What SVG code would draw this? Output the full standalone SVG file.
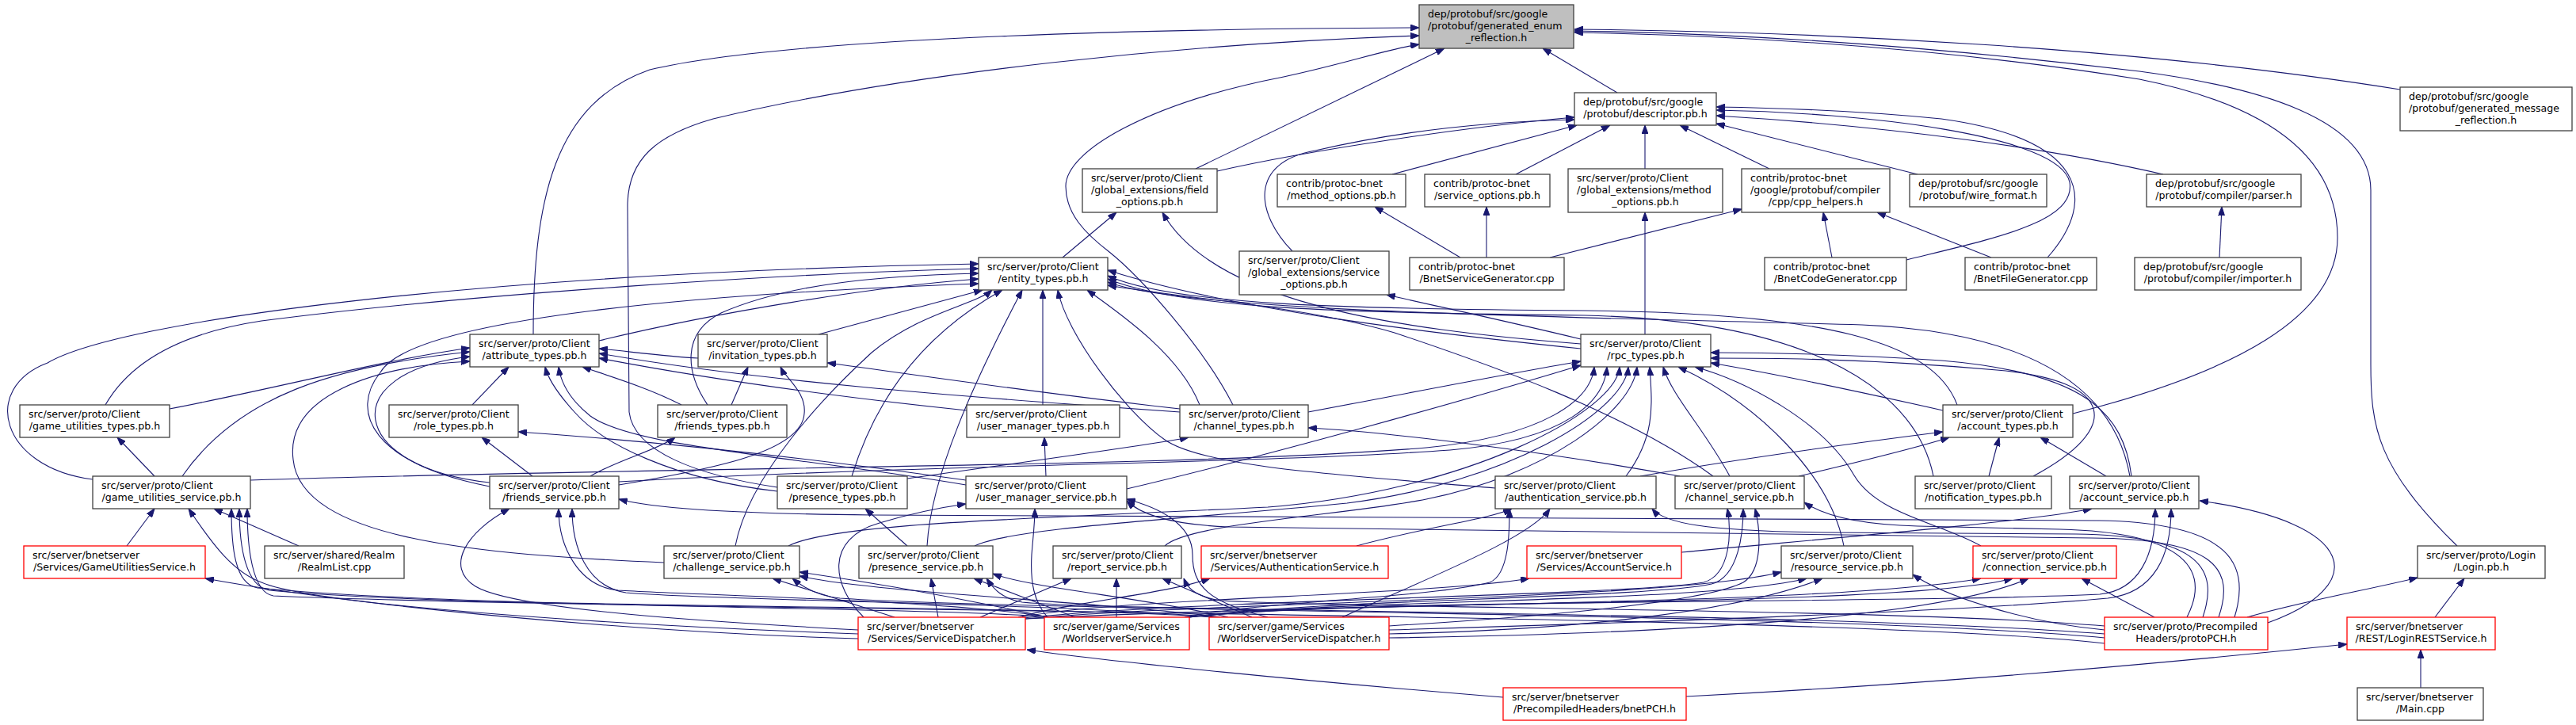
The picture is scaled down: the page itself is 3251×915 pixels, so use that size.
<svg xmlns="http://www.w3.org/2000/svg" width="3251" height="915" viewBox="0 0 3251 915">
<defs>
<marker id="a" markerWidth="11" markerHeight="8" refX="11" refY="4" orient="auto" markerUnits="userSpaceOnUse"><path d="M0,0 L11,4 L0,8 z" fill="#191970" stroke="#191970" stroke-width="1"/></marker>
<style>
.n rect{fill:#fff;stroke:#404040;stroke-width:1.3}
.r rect{stroke:#ff0000}
.g rect{fill:#bfbfbf}
text{font-family:"DejaVu Sans",sans-serif;font-size:12.6px;fill:#000}
.m{text-anchor:middle}
#edges path{fill:none;stroke:#191970;stroke-width:1.1;marker-end:url(#a)}
</style>
</defs>
<rect x="0" y="0" width="3251" height="915" fill="#fff"/>
<g id="edges">
<path d="M2041,117 L1947,61"/>
<path d="M1509,213 L1823,61"/>
<path d="M673,422 C673,250 700,130 820,88 C1000,45 1500,36 1791,35"/>
<path d="M1556,511 C1520,440 1440,350 1400,318 C1370,295 1345,270 1345,235 C1345,190 1450,130 1620,97 C1700,80 1750,62 1791,56"/>
<path d="M981,615 C880,600 800,570 794,520 L792,260 C792,200 830,170 900,150 C1150,90 1500,55 1791,45"/>
<path d="M3029,113 C2700,60 2300,40 1987,37"/>
<path d="M3101,689 C3000,590 2992,540 2992,460 L2992,240 C2992,150 2850,110 2700,90 C2450,60 2200,42 1987,39"/>
<path d="M2616,522 C2820,470 2950,400 2950,300 C2950,190 2850,130 2700,100 C2450,60 2200,45 1987,41"/>
<path d="M1536,216 C1650,190 1850,160 1987,148"/>
<path d="M1631,317 C1585,270 1575,205 1660,190 C1780,162 1900,153 1987,151"/>
<path d="M1757,220 L1990,158"/>
<path d="M1913,220 L2032,158"/>
<path d="M2076,213 L2076,158"/>
<path d="M2233,213 L2120,158"/>
<path d="M2420,220 L2166,156"/>
<path d="M2730,220 C2600,190 2400,160 2166,146"/>
<path d="M2406,328 C2520,300 2620,280 2612,230 C2600,170 2350,142 2166,139"/>
<path d="M2584,325 C2650,250 2630,175 2450,150 C2330,138 2230,136 2166,135"/>
<path d="M1843,325 L1735,261"/>
<path d="M1876,325 L1876,261"/>
<path d="M1956,325 L2198,264"/>
<path d="M2312,325 L2301,268"/>
<path d="M2513,325 L2369,268"/>
<path d="M2801,325 L2804,261"/>
<path d="M2076,422 L2076,268"/>
<path d="M1995,428 C1900,405 1820,388 1750,372"/>
<path d="M1995,434 C1750,415 1530,380 1467,268"/>
<path d="M1341,325 L1409,268"/>
<path d="M117,605 C0,590 -25,490 60,458 C150,405 600,345 1235,333"/>
<path d="M133,511 C165,455 230,420 330,405 C600,370 1000,345 1235,339"/>
<path d="M893,511 C865,470 860,420 910,395 C990,360 1100,348 1235,345"/>
<path d="M756,430 C900,395 1100,362 1235,352"/>
<path d="M618,614 C470,585 440,520 480,470 C520,400 900,370 1235,358"/>
<path d="M1033,422 L1240,366"/>
<path d="M928,689 C945,600 1040,500 1100,445 C1160,395 1230,385 1252,366"/>
<path d="M1075,601 C1100,520 1150,430 1265,366"/>
<path d="M1170,689 C1175,600 1230,480 1290,366"/>
<path d="M1316,511 L1316,366"/>
<path d="M1887,616 C1700,600 1520,590 1470,555 C1420,520 1345,420 1335,366"/>
<path d="M1514,511 C1490,450 1420,400 1372,366"/>
<path d="M1995,440 C1800,420 1550,390 1398,341"/>
<path d="M2470,511 C2440,430 2300,395 2000,392 C1700,390 1480,385 1398,348"/>
<path d="M2440,601 C2420,500 2300,405 2000,398 C1700,395 1490,390 1398,352"/>
<path d="M2688,601 C2670,500 2580,420 2350,410 C2000,400 1500,395 1398,356"/>
<path d="M2162,601 C2050,520 1880,460 1760,420 C1640,385 1480,375 1398,360"/>
<path d="M214,516 C350,490 480,455 593,439"/>
<path d="M230,601 C300,500 420,462 593,444"/>
<path d="M618,609 C440,590 420,470 593,450"/>
<path d="M838,710 C600,700 380,680 370,580 C360,500 470,462 593,456"/>
<path d="M596,511 L642,463"/>
<path d="M860,511 C820,490 770,475 735,463"/>
<path d="M881,452 C840,450 790,443 756,440"/>
<path d="M1489,520 C1200,500 950,480 756,446"/>
<path d="M1220,518 C1000,495 850,470 756,452"/>
<path d="M981,620 C850,605 760,560 725,520 C705,498 692,480 688,463"/>
<path d="M1219,612 C1000,575 800,565 745,525 C720,505 708,485 705,463"/>
<path d="M923,511 L944,463"/>
<path d="M781,612 C900,592 1012,570 1015,522 C1018,495 992,478 985,463"/>
<path d="M1489,516 C1300,495 1150,472 1044,458"/>
<path d="M1651,520 C1800,492 1900,472 1995,456"/>
<path d="M2452,518 C2350,495 2230,470 2159,458"/>
<path d="M1422,617 C1600,575 1850,505 1995,461"/>
<path d="M316,606 C900,588 1500,590 1800,565 C1950,550 2008,505 2012,463"/>
<path d="M781,608 C1200,585 1600,585 1830,568 C1980,555 2025,505 2028,463"/>
<path d="M995,689 C1050,660 1300,655 1600,640 C1850,620 2040,520 2044,463"/>
<path d="M1230,689 C1280,665 1500,655 1700,635 C1900,610 2050,520 2055,463"/>
<path d="M1470,689 C1500,660 1700,650 1800,630 C1950,600 2060,520 2066,463"/>
<path d="M2052,601 C2090,550 2085,510 2082,463"/>
<path d="M2183,601 C2150,540 2110,500 2099,463"/>
<path d="M2327,689 C2310,600 2220,510 2118,463"/>
<path d="M2500,689 C2450,660 2370,650 2340,600 C2300,530 2200,480 2139,463"/>
<path d="M2566,601 C2680,540 2670,480 2520,467 C2350,452 2230,452 2159,452"/>
<path d="M2690,601 C2680,520 2630,470 2450,455 C2300,445 2200,445 2159,445"/>
<path d="M672,601 L608,552"/>
<path d="M1219,606 C1000,575 800,555 654,545"/>
<path d="M195,601 L148,552"/>
<path d="M745,601 C780,580 830,568 852,552"/>
<path d="M1320,601 L1318,552"/>
<path d="M1145,604 C1300,582 1450,562 1500,552"/>
<path d="M2120,601 C1950,570 1750,545 1651,540"/>
<path d="M2510,601 L2523,552"/>
<path d="M2658,601 L2575,552"/>
<path d="M2070,601 C2200,578 2350,558 2452,545"/>
<path d="M2270,601 C2350,582 2420,565 2460,552"/>
<path d="M1145,689 L1092,642"/>
<path d="M160,689 L195,642"/>
<path d="M377,689 L270,642"/>
<path d="M1083,800 C800,790 400,765 330,735 C295,722 270,690 238,642"/>
<path d="M1083,806 C800,798 450,765 259,730"/>
<path d="M1083,795 C900,785 650,770 600,740 C560,715 590,670 643,642"/>
<path d="M1129,779 L975,730"/>
<path d="M1184,779 L1175,730"/>
<path d="M1237,779 L1352,730"/>
<path d="M1090,779 C1050,740 1040,680 1110,660 C1150,648 1190,640 1219,636"/>
<path d="M1285,779 C1350,760 1470,750 1527,730"/>
<path d="M1290,779 C1400,755 1800,752 1930,730"/>
<path d="M1292,780 C1500,757 2050,752 2150,735 C2185,725 2185,670 2180,642"/>
<path d="M1294,781 C1550,758 2100,758 2248,722"/>
<path d="M1294,781 C1700,760 2300,765 2500,730"/>
<path d="M1409,779 L1409,730"/>
<path d="M1357,779 L1229,730"/>
<path d="M1322,779 C1200,752 1100,735 1009,722"/>
<path d="M1325,779 C1200,758 900,752 780,745 C730,740 705,690 705,642"/>
<path d="M1330,779 C1150,765 600,768 325,742 C296,737 292,690 292,642"/>
<path d="M1322,779 C1305,760 1300,735 1302,700 C1304,675 1306,660 1306,642"/>
<path d="M1495,779 C1600,758 1800,755 1880,735 C1905,725 1905,670 1905,642"/>
<path d="M1498,779 C1650,757 2080,755 2160,737 C2195,728 2200,670 2200,642"/>
<path d="M1500,779 C1700,755 2400,762 2650,750 C2700,745 2720,700 2720,642"/>
<path d="M1500,779 C1700,755 2150,762 2280,730"/>
<path d="M1501,779 C1700,755 2400,768 2540,730"/>
<path d="M1580,779 L1467,730"/>
<path d="M1550,779 C1450,755 1300,742 1253,724"/>
<path d="M1540,779 C1400,760 1100,748 1009,727"/>
<path d="M1535,779 C1300,760 900,758 790,748 C740,740 722,690 722,642"/>
<path d="M1532,779 C1300,762 600,770 340,745 C310,740 302,690 302,642"/>
<path d="M1600,779 C1525,760 1505,740 1505,700 C1505,660 1460,640 1422,630"/>
<path d="M1694,779 C1800,730 1930,680 1956,642"/>
<path d="M1753,790 C1950,778 2150,760 2200,735 C2225,720 2222,670 2215,642"/>
<path d="M1753,795 C2100,785 2500,770 2660,755 C2720,748 2740,700 2740,642"/>
<path d="M1753,800 C2000,795 2200,770 2300,730"/>
<path d="M1753,805 C2100,800 2450,780 2560,730"/>
<path d="M2719,779 L2627,730"/>
<path d="M2862,786 C2990,740 2980,660 2776,632"/>
<path d="M2836,779 C2900,760 3000,742 3051,729"/>
<path d="M2656,795 C2550,785 2450,750 2414,725"/>
<path d="M2760,779 C2790,720 2760,672 2600,668 L2420,664 C2340,662 2300,650 2277,634"/>
<path d="M2780,779 C2800,720 2780,676 2620,674 L2300,672 C2150,670 2100,660 2085,642"/>
<path d="M2800,779 C2820,720 2800,680 2640,679 L1550,665 C1480,662 1440,650 1422,632"/>
<path d="M2820,779 C2840,715 2820,660 2650,657 L1100,650 C900,648 820,640 781,630"/>
<path d="M2656,790 C2400,768 1700,768 1540,758 C1505,752 1498,740 1494,730"/>
<path d="M2656,800 C2300,772 1400,772 1290,760 C1265,755 1255,745 1245,730"/>
<path d="M2656,805 C2300,772 1300,772 1060,755 C1030,752 1012,740 1000,730"/>
<path d="M2656,812 C2300,772 800,772 345,752 C318,748 312,690 312,642"/>
<path d="M1897,880 C1650,860 1400,835 1296,820"/>
<path d="M2128,879 C2500,860 2800,830 2962,813"/>
<path d="M3055,868 L3055,820"/>
<path d="M3073,779 L3110,730"/>
<path d="M1712,689 C1800,665 1880,655 1908,642"/>
<path d="M2122,697 C2300,680 2550,660 2640,642"/>
</g>
<g id="n0" class="n g"><rect x="1791" y="6" width="195" height="55"/><text x="1802" y="22">dep/protobuf/src/google</text><text x="1802" y="36.8">/protobuf/generated_enum</text><text class="m" x="1888.5" y="51.6">_reflection.h</text></g>
<g id="n1" class="n"><rect x="1987" y="117" width="179" height="41"/><text x="1998" y="133">dep/protobuf/src/google</text><text class="m" x="2076.5" y="147.8">/protobuf/descriptor.pb.h</text></g>
<g id="n2" class="n"><rect x="3029" y="110" width="217" height="55"/><text x="3040" y="126">dep/protobuf/src/google</text><text x="3040" y="140.8">/protobuf/generated_message</text><text class="m" x="3137.5" y="155.6">_reflection.h</text></g>
<g id="n3" class="n"><rect x="1366" y="213" width="170" height="55"/><text x="1377" y="229">src/server/proto/Client</text><text x="1377" y="243.8">/global_extensions/field</text><text class="m" x="1451" y="258.6">_options.pb.h</text></g>
<g id="n4" class="n"><rect x="1612" y="220" width="162" height="41"/><text x="1623" y="236">contrib/protoc-bnet</text><text class="m" x="1693" y="250.8">/method_options.pb.h</text></g>
<g id="n5" class="n"><rect x="1798" y="220" width="158" height="41"/><text x="1809" y="236">contrib/protoc-bnet</text><text class="m" x="1877" y="250.8">/service_options.pb.h</text></g>
<g id="n6" class="n"><rect x="1979" y="213" width="195" height="55"/><text x="1990" y="229">src/server/proto/Client</text><text x="1990" y="243.8">/global_extensions/method</text><text class="m" x="2076.5" y="258.6">_options.pb.h</text></g>
<g id="n7" class="n"><rect x="2198" y="213" width="187" height="55"/><text x="2209" y="229">contrib/protoc-bnet</text><text x="2209" y="243.8">/google/protobuf/compiler</text><text class="m" x="2291.5" y="258.6">/cpp/cpp_helpers.h</text></g>
<g id="n8" class="n"><rect x="2410" y="220" width="173" height="41"/><text x="2421" y="236">dep/protobuf/src/google</text><text class="m" x="2496.5" y="250.8">/protobuf/wire_format.h</text></g>
<g id="n9" class="n"><rect x="2709" y="220" width="195" height="41"/><text x="2720" y="236">dep/protobuf/src/google</text><text class="m" x="2806.5" y="250.8">/protobuf/compiler/parser.h</text></g>
<g id="n10" class="n"><rect x="1235" y="325" width="163" height="41"/><text x="1246" y="341">src/server/proto/Client</text><text class="m" x="1316.5" y="355.8">/entity_types.pb.h</text></g>
<g id="n11" class="n"><rect x="1564" y="317" width="189" height="55"/><text x="1575" y="333">src/server/proto/Client</text><text x="1575" y="347.8">/global_extensions/service</text><text class="m" x="1658.5" y="362.6">_options.pb.h</text></g>
<g id="n12" class="n"><rect x="1779" y="325" width="195" height="41"/><text x="1790" y="341">contrib/protoc-bnet</text><text class="m" x="1876.5" y="355.8">/BnetServiceGenerator.cpp</text></g>
<g id="n13" class="n"><rect x="2227" y="325" width="179" height="41"/><text x="2238" y="341">contrib/protoc-bnet</text><text class="m" x="2316.5" y="355.8">/BnetCodeGenerator.cpp</text></g>
<g id="n14" class="n"><rect x="2480" y="325" width="166" height="41"/><text x="2491" y="341">contrib/protoc-bnet</text><text class="m" x="2563" y="355.8">/BnetFileGenerator.cpp</text></g>
<g id="n15" class="n"><rect x="2694" y="325" width="210" height="41"/><text x="2705" y="341">dep/protobuf/src/google</text><text class="m" x="2799" y="355.8">/protobuf/compiler/importer.h</text></g>
<g id="n16" class="n"><rect x="593" y="422" width="163" height="41"/><text x="604" y="438">src/server/proto/Client</text><text class="m" x="674.5" y="452.8">/attribute_types.pb.h</text></g>
<g id="n17" class="n"><rect x="881" y="422" width="163" height="41"/><text x="892" y="438">src/server/proto/Client</text><text class="m" x="962.5" y="452.8">/invitation_types.pb.h</text></g>
<g id="n18" class="n"><rect x="1995" y="422" width="164" height="41"/><text x="2006" y="438">src/server/proto/Client</text><text class="m" x="2077" y="452.8">/rpc_types.pb.h</text></g>
<g id="n19" class="n"><rect x="25" y="511" width="189" height="41"/><text x="36" y="527">src/server/proto/Client</text><text class="m" x="119.5" y="541.8">/game_utilities_types.pb.h</text></g>
<g id="n20" class="n"><rect x="491" y="511" width="163" height="41"/><text x="502" y="527">src/server/proto/Client</text><text class="m" x="572.5" y="541.8">/role_types.pb.h</text></g>
<g id="n21" class="n"><rect x="830" y="511" width="163" height="41"/><text x="841" y="527">src/server/proto/Client</text><text class="m" x="911.5" y="541.8">/friends_types.pb.h</text></g>
<g id="n22" class="n"><rect x="1220" y="511" width="193" height="41"/><text x="1231" y="527">src/server/proto/Client</text><text class="m" x="1316.5" y="541.8">/user_manager_types.pb.h</text></g>
<g id="n23" class="n"><rect x="1489" y="511" width="162" height="41"/><text x="1500" y="527">src/server/proto/Client</text><text class="m" x="1570" y="541.8">/channel_types.pb.h</text></g>
<g id="n24" class="n"><rect x="2452" y="511" width="164" height="41"/><text x="2463" y="527">src/server/proto/Client</text><text class="m" x="2534" y="541.8">/account_types.pb.h</text></g>
<g id="n25" class="n"><rect x="117" y="601" width="199" height="41"/><text x="128" y="617">src/server/proto/Client</text><text class="m" x="216.5" y="631.8">/game_utilities_service.pb.h</text></g>
<g id="n26" class="n"><rect x="618" y="601" width="163" height="41"/><text x="629" y="617">src/server/proto/Client</text><text class="m" x="699.5" y="631.8">/friends_service.pb.h</text></g>
<g id="n27" class="n"><rect x="981" y="601" width="164" height="41"/><text x="992" y="617">src/server/proto/Client</text><text class="m" x="1063" y="631.8">/presence_types.pb.h</text></g>
<g id="n28" class="n"><rect x="1219" y="601" width="203" height="41"/><text x="1230" y="617">src/server/proto/Client</text><text class="m" x="1320.5" y="631.8">/user_manager_service.pb.h</text></g>
<g id="n29" class="n"><rect x="1887" y="601" width="203" height="41"/><text x="1898" y="617">src/server/proto/Client</text><text class="m" x="1988.5" y="631.8">/authentication_service.pb.h</text></g>
<g id="n30" class="n"><rect x="2114" y="601" width="163" height="41"/><text x="2125" y="617">src/server/proto/Client</text><text class="m" x="2195.5" y="631.8">/channel_service.pb.h</text></g>
<g id="n31" class="n"><rect x="2417" y="601" width="172" height="41"/><text x="2428" y="617">src/server/proto/Client</text><text class="m" x="2503" y="631.8">/notification_types.pb.h</text></g>
<g id="n32" class="n"><rect x="2612" y="601" width="163" height="41"/><text x="2623" y="617">src/server/proto/Client</text><text class="m" x="2693.5" y="631.8">/account_service.pb.h</text></g>
<g id="n33" class="n r"><rect x="30" y="689" width="229" height="41"/><text x="41" y="705">src/server/bnetserver</text><text class="m" x="144.5" y="719.8">/Services/GameUtilitiesService.h</text></g>
<g id="n34" class="n"><rect x="334" y="689" width="176" height="41"/><text x="345" y="705">src/server/shared/Realm</text><text class="m" x="422" y="719.8">/RealmList.cpp</text></g>
<g id="n35" class="n"><rect x="838" y="689" width="171" height="41"/><text x="849" y="705">src/server/proto/Client</text><text class="m" x="923.5" y="719.8">/challenge_service.pb.h</text></g>
<g id="n36" class="n"><rect x="1084" y="689" width="169" height="41"/><text x="1095" y="705">src/server/proto/Client</text><text class="m" x="1168.5" y="719.8">/presence_service.pb.h</text></g>
<g id="n37" class="n"><rect x="1329" y="689" width="162" height="41"/><text x="1340" y="705">src/server/proto/Client</text><text class="m" x="1410" y="719.8">/report_service.pb.h</text></g>
<g id="n38" class="n r"><rect x="1516" y="689" width="236" height="41"/><text x="1527" y="705">src/server/bnetserver</text><text class="m" x="1634" y="719.8">/Services/AuthenticationService.h</text></g>
<g id="n39" class="n r"><rect x="1927" y="689" width="195" height="41"/><text x="1938" y="705">src/server/bnetserver</text><text class="m" x="2024.5" y="719.8">/Services/AccountService.h</text></g>
<g id="n40" class="n"><rect x="2248" y="689" width="166" height="41"/><text x="2259" y="705">src/server/proto/Client</text><text class="m" x="2331" y="719.8">/resource_service.pb.h</text></g>
<g id="n41" class="n r"><rect x="2490" y="689" width="181" height="41"/><text x="2501" y="705">src/server/proto/Client</text><text class="m" x="2580.5" y="719.8">/connection_service.pb.h</text></g>
<g id="n42" class="n"><rect x="3051" y="689" width="161" height="41"/><text x="3062" y="705">src/server/proto/Login</text><text class="m" x="3131.5" y="719.8">/Login.pb.h</text></g>
<g id="n43" class="n r"><rect x="1083" y="779" width="211" height="41"/><text x="1094" y="795">src/server/bnetserver</text><text class="m" x="1188.5" y="809.8">/Services/ServiceDispatcher.h</text></g>
<g id="n44" class="n r"><rect x="1318" y="779" width="183" height="41"/><text x="1329" y="795">src/server/game/Services</text><text class="m" x="1409.5" y="809.8">/WorldserverService.h</text></g>
<g id="n45" class="n r"><rect x="1526" y="779" width="227" height="41"/><text x="1537" y="795">src/server/game/Services</text><text class="m" x="1639.5" y="809.8">/WorldserverServiceDispatcher.h</text></g>
<g id="n46" class="n r"><rect x="2656" y="779" width="206" height="41"/><text x="2667" y="795">src/server/proto/Precompiled</text><text class="m" x="2759" y="809.8">Headers/protoPCH.h</text></g>
<g id="n47" class="n r"><rect x="2962" y="779" width="187" height="41"/><text x="2973" y="795">src/server/bnetserver</text><text class="m" x="3055.5" y="809.8">/REST/LoginRESTService.h</text></g>
<g id="n48" class="n r"><rect x="1897" y="868" width="231" height="41"/><text x="1908" y="884">src/server/bnetserver</text><text class="m" x="2012.5" y="898.8">/PrecompiledHeaders/bnetPCH.h</text></g>
<g id="n49" class="n"><rect x="2975" y="868" width="159" height="41"/><text x="2986" y="884">src/server/bnetserver</text><text class="m" x="3054.5" y="898.8">/Main.cpp</text></g>
</svg>
